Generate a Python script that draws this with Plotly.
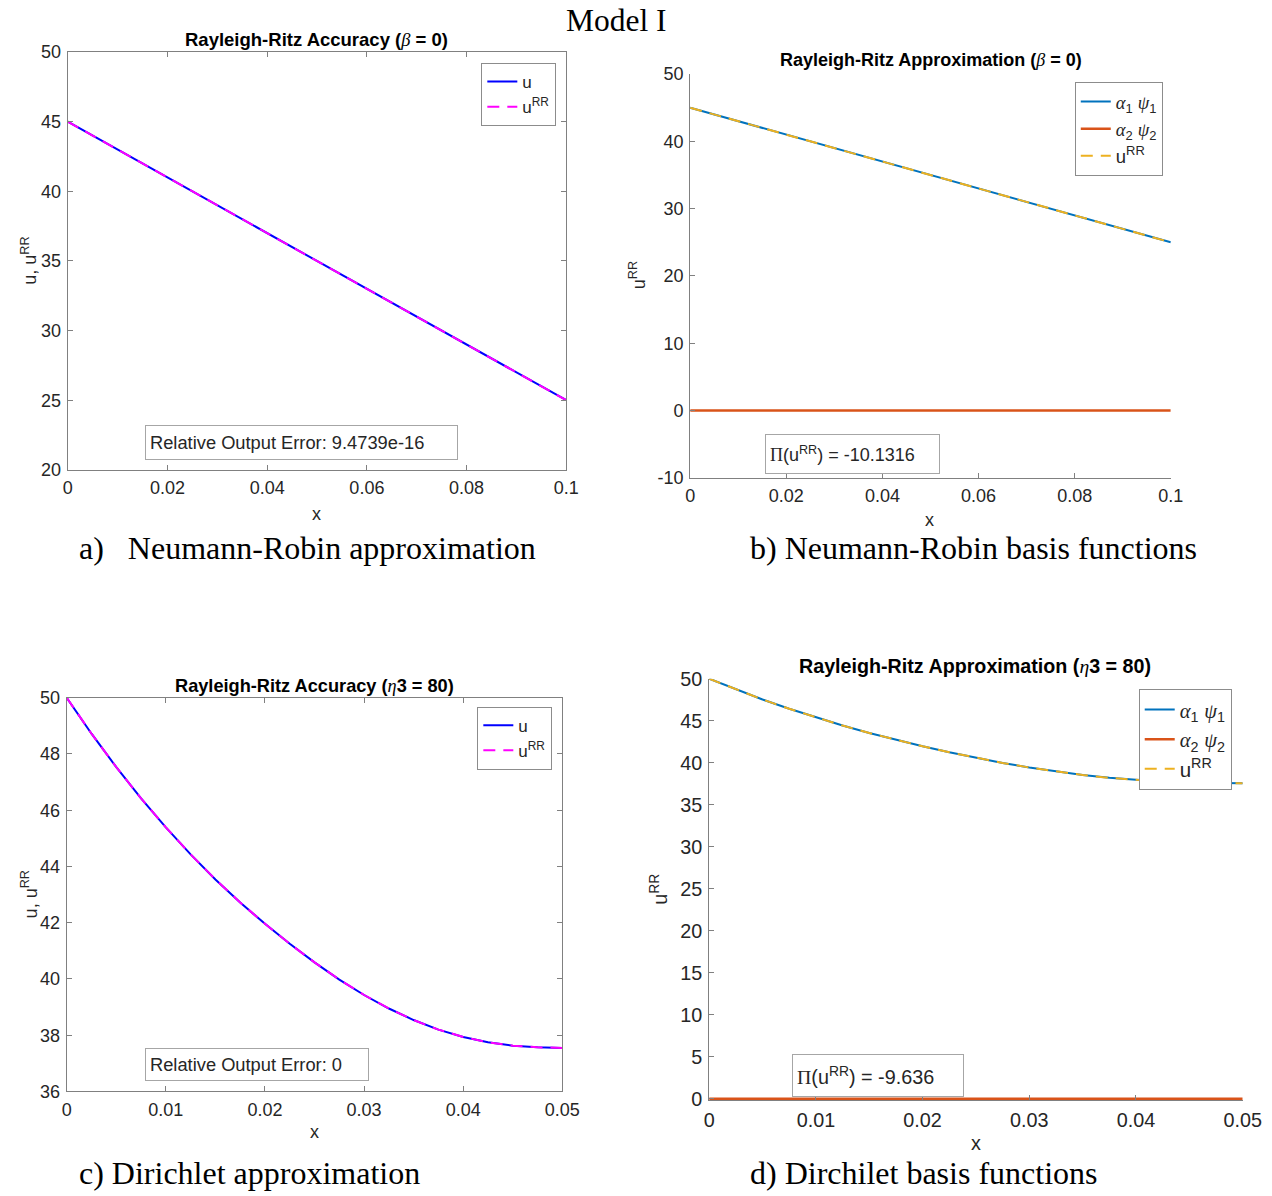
import plotly.graph_objects as go

W, H = 1272, 1196

# ---------------- data ----------------
# Neumann-Robin (beta = 0): linear profile
x_nr = [0.0, 0.02, 0.04, 0.06, 0.08, 0.1]
u_nr = [45.0, 41.0, 37.0, 33.0, 29.0, 25.0]
u_rr_nr = [45.0, 41.0, 37.0, 33.0, 29.0, 25.0]
a1psi1_nr = [45.0, 41.0, 37.0, 33.0, 29.0, 25.0]
a2psi2_nr = [0.0, 0.0, 0.0, 0.0, 0.0, 0.0]

# Dirichlet (eta3 = 80): curved profile
x_d = [0.0, 0.0025, 0.005, 0.0075, 0.01, 0.0125, 0.015, 0.0175, 0.02, 0.0225,
       0.025, 0.0275, 0.03, 0.0325, 0.035, 0.0375, 0.04, 0.0425, 0.045, 0.0475, 0.05]
u_d = [50.0, 48.72, 47.53, 46.42, 45.39, 44.43, 43.54, 42.72, 41.96, 41.25,
       40.59, 39.98, 39.43, 38.95, 38.54, 38.20, 37.94, 37.75, 37.63, 37.57, 37.55]
u_rr_d = [50.0, 48.72, 47.53, 46.42, 45.39, 44.43, 43.54, 42.72, 41.96, 41.25,
          40.59, 39.98, 39.43, 38.95, 38.54, 38.20, 37.94, 37.75, 37.63, 37.57, 37.55]
a1psi1_d = [50.0, 48.72, 47.53, 46.42, 45.39, 44.43, 43.54, 42.72, 41.96, 41.25,
            40.59, 39.98, 39.43, 38.95, 38.54, 38.20, 37.94, 37.75, 37.63, 37.57, 37.55]
a2psi2_d = [0.0] * 21

# ticks
xt_nr = [0, 0.02, 0.04, 0.06, 0.08, 0.1]
xt_nr_txt = ["0", "0.02", "0.04", "0.06", "0.08", "0.1"]
xt_d = [0, 0.01, 0.02, 0.03, 0.04, 0.05]
xt_d_txt = ["0", "0.01", "0.02", "0.03", "0.04", "0.05"]
yt_a = [20, 25, 30, 35, 40, 45, 50]
yt_b = [-10, 0, 10, 20, 30, 40, 50]
yt_c = [36, 38, 40, 42, 44, 46, 48, 50]
yt_d = [0, 5, 10, 15, 20, 25, 30, 35, 40, 45, 50]

SERIF = "Liberation Serif"
titles = ["Rayleigh-Ritz Accuracy (<span style='font-family:%s;font-weight:normal'><i>β</i></span> = 0)" % SERIF,
          "Rayleigh-Ritz Approximation (<span style='font-family:%s;font-weight:normal'><i>β</i></span> = 0)" % SERIF,
          "Rayleigh-Ritz Accuracy (<span style='font-family:%s;font-weight:normal'><i>η</i></span>3 = 80)" % SERIF,
          "Rayleigh-Ritz Approximation (<span style='font-family:%s;font-weight:normal'><i>η</i></span>3 = 80)" % SERIF]
info_texts = ["Relative Output Error: 9.4739e-16",
              "<span style='font-family:%s'>Π</span>(u<sup>RR</sup>) = -10.1316" % SERIF,
              "Relative Output Error: 0",
              "<span style='font-family:%s'>Π</span>(u<sup>RR</sup>) = -9.636" % SERIF]
captions = ["a)\u00a0\u00a0\u00a0Neumann-Robin approximation",
            "b) Neumann-Robin basis functions",
            "c) Dirichlet approximation",
            "d) Dirchilet basis functions"]
xtitles = ["x", "x", "x", "x"]
ytitles = ["u, u<sup>RR</sup>", "u<sup>RR</sup>", "u, u<sup>RR</sup>", "u<sup>RR</sup>"]

# ---------------- styles ----------------
BLUE, MAG = "#0000FF", "#FF00FF"
C1, C2, C3 = "#0072BD", "#D95319", "#EDB120"
AX = "#808080"
TXT = "#262626"
DASH = "12px,8px"
FONT = "Liberation Sans"

# the rendered page shows a slight uniform scale/offset; positions below are
# given in target-picture pixels and converted here
SX, OX, SY, OY = 0.982, 4.2, 0.983, 8.9


def px_x(p):
    return ((p - OX) / SX) / W


def px_y(p):
    return 1 - ((p - OY) / SY) / H


def gk(s):
    return "<span style='font-family:%s'><i>%s</i></span>" % (SERIF, s)


greek_a1 = gk("α") + "<sub>1</sub> " + gk("ψ") + "<sub>1</sub>"
greek_a2 = gk("α") + "<sub>2</sub> " + gk("ψ") + "<sub>2</sub>"

fig = go.Figure()

# panel a
fig.add_trace(go.Scatter(x=x_nr, y=u_nr, mode="lines", name="u",
                         line=dict(color=BLUE, width=2), xaxis="x", yaxis="y", legend="legend"))
fig.add_trace(go.Scatter(x=x_nr, y=u_rr_nr, mode="lines", name="u<sup>RR</sup>",
                         line=dict(color=MAG, width=2, dash=DASH), xaxis="x", yaxis="y", legend="legend"))
# panel b
fig.add_trace(go.Scatter(x=x_nr, y=a1psi1_nr, mode="lines", name=greek_a1,
                         line=dict(color=C1, width=2), xaxis="x2", yaxis="y2", legend="legend2"))
fig.add_trace(go.Scatter(x=x_nr, y=a2psi2_nr, mode="lines", name=greek_a2,
                         line=dict(color=C2, width=2.5), xaxis="x2", yaxis="y2", legend="legend2"))
fig.add_trace(go.Scatter(x=x_nr, y=u_rr_nr, mode="lines", name="u<sup>RR</sup>",
                         line=dict(color=C3, width=2, dash=DASH), xaxis="x2", yaxis="y2", legend="legend2"))
# panel c
fig.add_trace(go.Scatter(x=x_d, y=u_d, mode="lines", name="u",
                         line=dict(color=BLUE, width=2), xaxis="x3", yaxis="y3", legend="legend3"))
fig.add_trace(go.Scatter(x=x_d, y=u_rr_d, mode="lines", name="u<sup>RR</sup>",
                         line=dict(color=MAG, width=2, dash=DASH), xaxis="x3", yaxis="y3", legend="legend3"))
# panel d
fig.add_trace(go.Scatter(x=x_d, y=a1psi1_d, mode="lines", name=greek_a1,
                         line=dict(color=C1, width=2), xaxis="x4", yaxis="y4", legend="legend4"))
fig.add_trace(go.Scatter(x=x_d, y=a2psi2_d, mode="lines", name=greek_a2,
                         line=dict(color=C2, width=2.5), xaxis="x4", yaxis="y4", legend="legend4"))
fig.add_trace(go.Scatter(x=x_d, y=u_rr_d, mode="lines", name="u<sup>RR</sup>",
                         line=dict(color=C3, width=2, dash=DASH), xaxis="x4", yaxis="y4", legend="legend4"))

# panel pixel boxes: (left, right, top, bottom)
boxes = [(66, 565, 50, 468), (689, 1170, 72, 476), (65, 561, 696, 1090), (708, 1242, 677, 1099)]
xranges = [[0, 0.1], [0, 0.1], [0, 0.05], [0, 0.05]]
yranges = [[20, 50], [-10, 50], [36, 50], [-0.2, 50]]
xticks = [(xt_nr, xt_nr_txt), (xt_nr, xt_nr_txt), (xt_d, xt_d_txt), (xt_d, xt_d_txt)]
yticks = [yt_a, yt_b, yt_c, yt_d]
mirrors = ["ticks", False, "ticks", False]
tick_fs = [18, 18, 18, 19.8]

layout = dict(width=W, height=H, margin=dict(l=0, r=0, t=0, b=0),
              paper_bgcolor="white", plot_bgcolor="white",
              font=dict(family=FONT, color=TXT, size=16))

for i in range(4):
    l, r, t, b = boxes[i]
    sfx = "" if i == 0 else str(i + 1)
    layout["xaxis" + sfx] = dict(
        domain=[px_x(l), px_x(r)], range=xranges[i], anchor="y" + sfx,
        tickvals=xticks[i][0], ticktext=xticks[i][1],
        showline=True, linecolor=AX, linewidth=1, mirror=mirrors[i],
        ticks="inside", ticklen=5, tickcolor=AX, showgrid=False, zeroline=False,
        tickfont=dict(size=tick_fs[i], color=TXT), ticklabelstandoff=2)
    layout["yaxis" + sfx] = dict(
        domain=[px_y(b), px_y(t)], range=yranges[i], anchor="x" + sfx,
        tickvals=yticks[i], ticktext=[str(v) for v in yticks[i]],
        showline=True, linecolor=AX, linewidth=1, mirror=mirrors[i],
        ticks="inside", ticklen=5, tickcolor=AX, showgrid=False, zeroline=False,
        tickfont=dict(size=tick_fs[i], color=TXT), ticklabelstandoff=2)

leg_pos = [(555, 61), (1162, 80), (551, 705), (1231, 687)]
leg_fs = [17, 18.5, 17, 20.5]
for i, (lx, ly) in enumerate(leg_pos):
    key = "legend" if i == 0 else "legend" + str(i + 1)
    layout[key] = dict(x=px_x(lx), y=px_y(ly), xanchor="right", yanchor="top",
                       xref="paper", yref="paper",
                       bgcolor="white", bordercolor="#8c8c8c", borderwidth=1,
                       font=dict(size=leg_fs[i], color=TXT), tracegroupgap=0, itemwidth=30)

fig.update_layout(**layout)

annotations = []
# subplot titles
title_pos = [(315, 37), (930, 58), (313, 684), (974, 664)]
title_fs = [18.5, 18, 18.2, 19.7]
for txt, (tx, ty), fs in zip(titles, title_pos, title_fs):
    annotations.append(dict(text="<b>" + txt + "</b>", x=px_x(tx), y=px_y(ty),
                            xref="paper", yref="paper", xanchor="center", yanchor="middle",
                            showarrow=False, font=dict(size=fs, color="black")))
# axis titles
xt_pos = [(315, 512), (929, 518), (313, 1131), (975, 1142)]
for i, (txt, (tx, ty)) in enumerate(zip(xtitles, xt_pos)):
    annotations.append(dict(text=txt, x=px_x(tx), y=px_y(ty), xref="paper", yref="paper",
                            xanchor="center", yanchor="middle", showarrow=False,
                            font=dict(size=tick_fs[i], color=TXT)))
yt_pos = [(28, 259), (637, 273), (28, 893), (657, 888)]
for i, (txt, (tx, ty)) in enumerate(zip(ytitles, yt_pos)):
    annotations.append(dict(text=txt, x=px_x(tx), y=px_y(ty), xref="paper", yref="paper",
                            xanchor="center", yanchor="middle", showarrow=False, textangle=-90,
                            font=dict(size=tick_fs[i], color=TXT)))
# info boxes (left, top, total width, total height) in target pixels
info_box = [(143, 423, 307, 34), (764, 432, 172, 39), (143, 1046, 220, 32), (791, 1052, 169, 42)]
info_fs = [18.3, 18, 18.3, 19.8]
for txt, (bx, by, bw, bh), fs in zip(info_texts, info_box, info_fs):
    annotations.append(dict(text=txt, x=px_x(bx), y=px_y(by), xref="paper", yref="paper",
                            xanchor="left", yanchor="top", align="left", valign="middle",
                            width=bw / SX - 10, height=bh / SY - 10, showarrow=False,
                            bordercolor="#a6a6a6", borderwidth=1, borderpad=4, bgcolor="white",
                            font=dict(size=fs, color=TXT)))
# captions
cap_pos = [(75, 546), (747, 546), (75, 1172), (747, 1172)]
for txt, (cx, cy) in zip(captions, cap_pos):
    annotations.append(dict(text=txt, x=px_x(cx), y=px_y(cy), xref="paper", yref="paper",
                            xanchor="left", yanchor="middle", showarrow=False,
                            font=dict(family=SERIF, size=32, color="black")))
annotations.append(dict(text="Model I", x=px_x(615), y=px_y(18), xref="paper", yref="paper",
                        xanchor="center", yanchor="middle", showarrow=False,
                        font=dict(family=SERIF, size=31.5, color="black")))

fig.update_layout(annotations=annotations)
fig.write_html("out.html")
